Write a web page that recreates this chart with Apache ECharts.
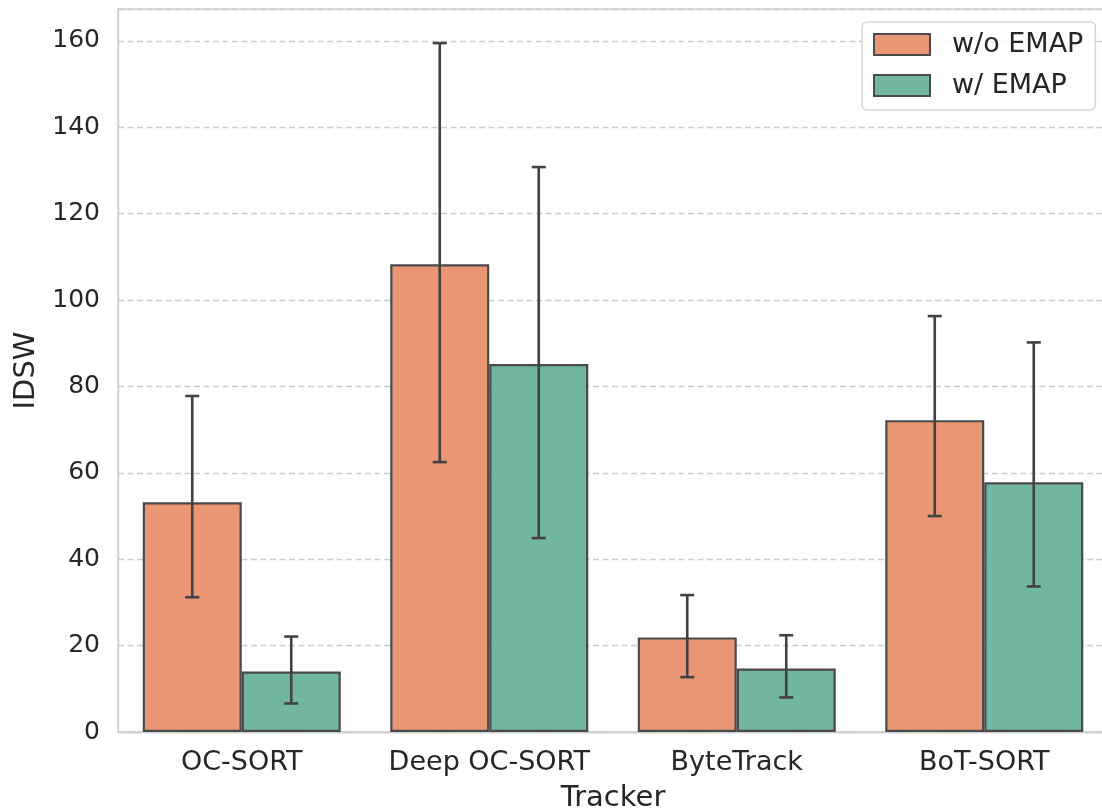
<!DOCTYPE html>
<html>
<head>
<meta charset="utf-8">
<script src="https://cdn.jsdelivr.net/npm/echarts@6/dist/echarts.min.js"></script>
<style>
  html, body { margin: 0; padding: 0; background: #fff; }
  #chart { width: 1102px; height: 812px; }
</style>
</head>
<body>
<div id="chart"></div>
<script>
// Trackers on the x axis
const trackers = ['OC-SORT', 'Deep OC-SORT', 'ByteTrack', 'BoT-SORT'];

// Mean IDSW without EMAP and its error interval
const withoutMean = [53.2, 108.3, 21.9, 72.2];
const withoutLow  = [31.2, 62.5, 12.7, 50.0];
const withoutHigh = [77.8, 159.5, 31.7, 96.3];

// Mean IDSW with EMAP and its error interval
const withMean = [14.0, 85.2, 14.7, 57.8];
const withLow  = [6.6, 44.9, 8.0, 33.7];
const withHigh = [22.1, 130.8, 22.4, 90.2];

const seriesNames = ['w/o EMAP', 'w/ EMAP'];

const FONT = 'DejaVu Sans';
const TEXT = '#262626';
const EDGE = '#4a4a4a';
const ERR = '#424242';

function errorData(low, high) {
  return trackers.map((_, i) => [i, low[i], high[i]]);
}

// Error bar with caps, shifted to the centre of its bar within the category
function makeErrorRenderer(shift) {
  return function (params, api) {
    const i = api.value(0);
    const band = api.size([1, 0])[0];
    const lo = api.coord([i, api.value(1)]);
    const hi = api.coord([i, api.value(2)]);
    const x = lo[0] + band * shift;
    const cap = 7;
    const style = { stroke: ERR, lineWidth: 2.6, fill: null };
    return {
      type: 'group',
      children: [
        { type: 'line', shape: { x1: x, y1: lo[1], x2: x, y2: hi[1] }, style },
        { type: 'line', shape: { x1: x - cap, y1: hi[1], x2: x + cap, y2: hi[1] }, style },
        { type: 'line', shape: { x1: x - cap, y1: lo[1], x2: x + cap, y2: lo[1] }, style }
      ]
    };
  };
}

const chart = echarts.init(document.getElementById('chart'), null, { renderer: 'canvas' });

chart.setOption({
  animation: false,
  backgroundColor: '#ffffff',
  textStyle: { fontFamily: FONT, color: TEXT },
  grid: {
    left: 118, top: 9, width: 990, height: 723,
    containLabel: false, outerBoundsMode: 'none',
    show: true, borderColor: '#cccccc', borderWidth: 1.3, backgroundColor: 'transparent'
  },
  legend: {
    data: seriesNames,
    orient: 'vertical',
    left: 862, top: 22,
    padding: [9, 12, 11, 11],
    icon: 'rect',
    itemWidth: 56, itemHeight: 21, itemGap: 14,
    backgroundColor: 'rgba(255,255,255,0.85)',
    borderColor: '#d6d6d6', borderWidth: 1.5, borderRadius: 5,
    textStyle: { fontFamily: FONT, fontSize: 27, color: TEXT, padding: [0, 0, 0, 17] }
  },
  xAxis: {
    type: 'category',
    data: trackers,
    name: 'Tracker',
    nameLocation: 'middle',
    nameGap: 52,
    nameTextStyle: { fontFamily: FONT, fontSize: 29, color: TEXT },
    axisLine: { show: true, lineStyle: { color: '#cccccc', width: 1.3 } },
    axisTick: { show: false },
    axisLabel: { fontFamily: FONT, fontSize: 27, color: TEXT, margin: 17, interval: 0 },
    splitLine: { show: false }
  },
  yAxis: {
    type: 'value',
    min: 0, max: 167.4, interval: 20,
    name: 'IDSW',
    nameLocation: 'middle',
    nameGap: 77,
    nameTextStyle: { fontFamily: FONT, fontSize: 29, color: TEXT },
    axisLine: { show: true, lineStyle: { color: '#cccccc', width: 1.3 } },
    axisTick: { show: false },
    axisLabel: { fontFamily: FONT, fontSize: 25, color: TEXT, margin: 18, showMaxLabel: false },
    splitLine: { show: true, lineStyle: { color: '#cccccc', width: 1.3, type: [6, 3.5] } }
  },
  series: [
    {
      name: seriesNames[0], type: 'bar', data: withoutMean,
      barGap: '0%', barCategoryGap: '20%',
      itemStyle: { color: '#e99675', borderColor: EDGE, borderWidth: 2.2 },
      z: 2
    },
    {
      name: seriesNames[1], type: 'bar', data: withMean,
      barGap: '0%', barCategoryGap: '20%',
      itemStyle: { color: '#72b6a1', borderColor: EDGE, borderWidth: 2.2 },
      z: 2
    },
    {
      name: 'err-without', type: 'custom', data: errorData(withoutLow, withoutHigh),
      renderItem: makeErrorRenderer(-0.2), z: 5, silent: true
    },
    {
      name: 'err-with', type: 'custom', data: errorData(withLow, withHigh),
      renderItem: makeErrorRenderer(0.2), z: 5, silent: true
    }
  ]
});
</script>
</body>
</html>
